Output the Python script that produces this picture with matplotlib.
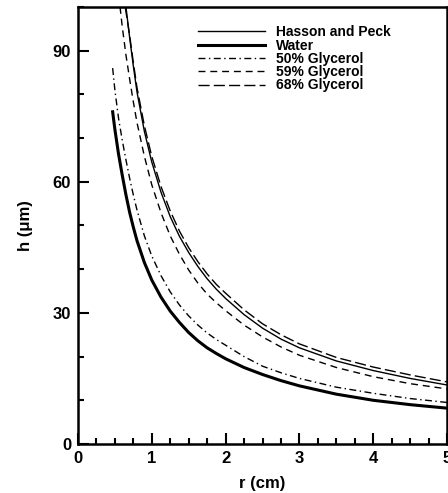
import matplotlib
matplotlib.use("Agg")
import matplotlib.pyplot as plt
from matplotlib.ticker import MultipleLocator

plt.rcParams['font.family'] = ['Liberation Sans', 'DejaVu Sans']
plt.rcParams['font.weight'] = 'bold'

# film thickness h (um) vs radius r (cm)
r_hp = [0.65, 0.7, 0.75, 0.8, 0.9, 1.0, 1.125, 1.25, 1.375, 1.5, 1.625, 1.75, 1.875,
        2.0, 2.25, 2.5, 2.75, 3.0, 3.5, 4.0, 4.5, 5.0]
h_hp = [100, 93, 86.5, 80.5, 71.5, 64.5, 57.6, 52.0, 47.5, 43.8, 40.6, 37.8, 35.4,
        33.3, 29.6, 26.5, 24.0, 22.0, 19.0, 16.8, 15.0, 13.5]

r_water = [0.47, 0.5, 0.55, 0.6, 0.65, 0.7, 0.75, 0.8, 0.9, 1.0, 1.125, 1.25, 1.375,
           1.5, 1.625, 1.75, 1.875, 2.0, 2.25, 2.5, 2.75, 3.0, 3.5, 4.0, 4.5, 5.0]
h_water = [76, 72, 66.3, 61.5, 57.0, 53.0, 49.6, 46.5, 41.5, 37.5, 33.6, 30.4, 27.8,
           25.5, 23.6, 22.0, 20.7, 19.5, 17.5, 15.9, 14.5, 13.3, 11.4, 10.0, 9.0, 8.2]

r_g50 = [0.47, 0.5, 0.55, 0.6, 0.65, 0.7, 0.75, 0.8, 0.9, 1.0, 1.125, 1.25, 1.375,
         1.5, 1.625, 1.75, 1.875, 2.0, 2.25, 2.5, 2.75, 3.0, 3.5, 4.0, 4.5, 5.0]
h_g50 = [86, 81, 74.5, 69.5, 65.0, 60.8, 57.0, 53.5, 47.6, 43.0, 38.5, 34.8, 31.8,
         29.3, 27.2, 25.4, 23.9, 22.6, 20.0, 17.8, 16.3, 15.0, 13.0, 11.6, 10.4, 9.5]

r_g59 = [0.57, 0.6, 0.65, 0.7, 0.75, 0.8, 0.9, 1.0, 1.125, 1.25, 1.375, 1.5, 1.625,
         1.75, 1.875, 2.0, 2.25, 2.5, 2.75, 3.0, 3.5, 4.0, 4.5, 5.0]
h_g59 = [100, 95.5, 89.0, 83.5, 78.3, 73.5, 65.8, 59.3, 52.9, 47.6, 43.4, 39.8, 36.8,
         34.3, 32.3, 30.5, 27.2, 24.5, 22.2, 20.3, 17.5, 15.4, 13.8, 12.6]

r_g68 = [0.64, 0.7, 0.75, 0.8, 0.9, 1.0, 1.125, 1.25, 1.375, 1.5, 1.625, 1.75, 1.875,
         2.0, 2.25, 2.5, 2.75, 3.0, 3.5, 4.0, 4.5, 5.0]
h_g68 = [100, 93.5, 87.3, 81.5, 72.8, 65.8, 58.9, 53.3, 48.7, 44.9, 41.7, 38.9, 36.5,
         34.5, 30.7, 27.5, 25.0, 22.9, 19.8, 17.6, 15.8, 14.2]

fig = plt.figure(figsize=(4.48, 4.93), dpi=100)
ax = fig.add_axes([0.174, 0.0994, 0.824, 0.8866])

ax.plot(r_hp, h_hp, color='black', lw=1.0, label='Hasson and Peck')
ax.plot(r_water, h_water, color='black', lw=2.2, label='Water')
ax.plot(r_g50, h_g50, color='black', lw=1.0, dashes=(5, 2.5, 1, 2.5), label='50% Glycerol')
ax.plot(r_g59, h_g59, color='black', lw=1.0, dashes=(5, 3.5), label='59% Glycerol')
ax.plot(r_g68, h_g68, color='black', lw=1.0, dashes=(8, 3), label='68% Glycerol')

ax.set_xlim(0, 5)
ax.set_ylim(0, 100)
ax.xaxis.set_major_locator(MultipleLocator(1))
ax.xaxis.set_minor_locator(MultipleLocator(0.25))
ax.yaxis.set_major_locator(MultipleLocator(30))
ax.yaxis.set_minor_locator(MultipleLocator(10))

ax.tick_params(which='both', direction='in', labelsize=12, width=1.5)
ax.tick_params(which='major', length=8, pad=5)
ax.tick_params(which='minor', length=4)
for s in ax.spines.values():
    s.set_linewidth(1.8)

ax.set_xlabel('r (cm)', fontsize=12, fontweight='bold', labelpad=7)
ax.set_ylabel('h (\u03bcm)', fontsize=12, fontweight='bold', labelpad=14)

ax.legend(loc='upper left', bbox_to_anchor=(0.325, 0.958), frameon=False,
          prop={'size': 10, 'weight': 'bold'}, handlelength=4.8,
          handletextpad=0.8, labelspacing=-0.05, borderaxespad=0, borderpad=0)

fig.savefig('out.png', dpi=100)
